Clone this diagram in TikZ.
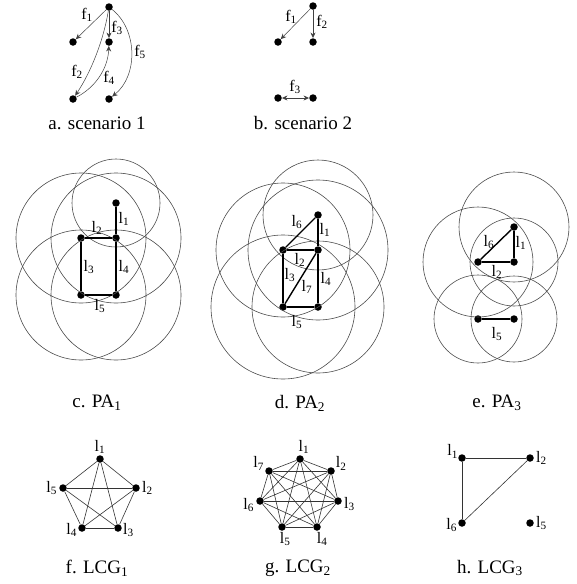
\documentclass[tikz,border=0pt]{standalone}
\usepackage{fontspec}
\setmainfont{Liberation Serif}
\usetikzlibrary{arrows.meta,positioning}

\newcommand{\lnk}[1]{l\textsubscript{#1}}
\newcommand{\flw}[1]{f\textsubscript{#1}}

\begin{document}
\begin{tikzpicture}[
    x=1pt, y=-1pt,
    font=\fontsize{16}{18}\selectfont,
    dot/.style={
        circle,
        fill,
        inner sep=0pt,
        minimum size=7.5pt
    },
    lbl/.style={
        inner sep=1pt
    },
    caption/.style={
        font=\fontsize{19}{22}\selectfont
    },
    flow/.style={
        -{Stealth[length=5.5pt,width=5pt]},
        line width=0.5pt,
        black!75
    },
    txrange/.style={
        draw,
        black!70,
        line width=0.6pt
    },
    link/.style={
        line width=1.4pt
    },
    edge/.style={
        line width=0.6pt,
        black!80
    }
]

\useasboundingbox (0,0) rectangle (576,584);

% scenario 1
\node[dot] (s1t) at (109,7) {};
\node[dot] (s1a) at (73,42) {};
\node[dot] (s1b) at (109,42) {};
\node[dot] (s1c) at (73,99) {};
\node[dot] (s1d) at (109,99) {};

\draw[flow] (s1t) -- (s1a);
\draw[flow] (s1t) -- (s1b);
\draw[flow] (s1t) .. controls (103.5,40) and (91.5,71) .. (s1c);
\draw[flow] (s1c) .. controls (96,87) and (108,68) .. (s1b);
\draw[flow] (s1t) .. controls (138,30) and (138,76) .. (s1d);

\node[lbl] (f1a) at (87,15) {\flw{1}};
\node[lbl] (f3a) at (117,28) {\flw{3}};
\node[lbl] (f5a) at (140,52) {\flw{5}};
\node[lbl] (f2a) at (77,72) {\flw{2}};
\node[lbl] (f4a) at (109,78) {\flw{4}};

\node[caption] (capa) at (97,123) {a. scenario 1};

% scenario 2
\node[dot] (s2t) at (313,6) {};
\node[dot] (s2a) at (278,42) {};
\node[dot] (s2b) at (313,42) {};
\node[dot] (s2c) at (278,98) {};
\node[dot] (s2d) at (313,98) {};

\draw[flow] (s2t) -- (s2a);
\draw[flow] (s2t) -- (s2b);
\draw[flow, {Stealth[length=5.5pt,width=5pt]}-{Stealth[length=5.5pt,width=5pt]}] (s2c) -- (s2d);

\node[lbl] (f1b) at (291,17) {\flw{1}};
\node[lbl] (f2b) at (322,22) {\flw{2}};
\node[lbl] (f3b) at (295,87) {\flw{3}};

\node[caption] (capb) at (303,123) {b. scenario 2};

% PA1
\node[dot] (p1) at (116,203) {};
\node[dot] (p2) at (81,238) {};
\node[dot] (p3) at (116,238) {};
\node[dot] (p4) at (81,295) {};
\node[dot] (p5) at (116,295) {};

\foreach \n/\r in {p1/44, p2/65, p3/65, p4/65, p5/65}
    \draw[txrange] (\n) circle (\r pt);

\draw[link] (p1) -- (p3);
\draw[link] (p2) -- (p3);
\draw[link] (p2) -- (p4);
\draw[link] (p3) -- (p5);
\draw[link] (p4) -- (p5);

\node[lbl] (pl1) at (124,219) {\lnk{1}};
\node[lbl] (pl2) at (97,228) {\lnk{2}};
\node[lbl] (pl3) at (89,267) {\lnk{3}};
\node[lbl] (pl4) at (124,267) {\lnk{4}};
\node[lbl] (pl5) at (100,306) {\lnk{5}};

\node[caption] (capc) at (97,403) {c. PA\textsubscript{1}};

% PA2
\node[dot] (q1) at (318,215) {};
\node[dot] (q2) at (283,250) {};
\node[dot] (q3) at (318,250) {};
\node[dot] (q4) at (283,307) {};
\node[dot] (q5) at (318,307) {};

\foreach \n/\r in {q1/55, q2/67, q3/70, q4/72, q5/66}
    \draw[txrange] (\n) circle (\r pt);

\draw[link] (q1) -- (q3);
\draw[link] (q2) -- (q1);
\draw[link] (q2) -- (q3);
\draw[link] (q2) -- (q4);
\draw[link] (q3) -- (q5);
\draw[link] (q4) -- (q5);
\draw[link] (q4) -- (q3);

\node[lbl] (ql6) at (297,222) {\lnk{6}};
\node[lbl] (ql1) at (325,230) {\lnk{1}};
\node[lbl] (ql2) at (300,260) {\lnk{2}};
\node[lbl] (ql3) at (290,275) {\lnk{3}};
\node[lbl] (ql7) at (307,287) {\lnk{7}};
\node[lbl] (ql4) at (326,279) {\lnk{4}};
\node[lbl] (ql5) at (297,322) {\lnk{5}};

\node[caption] (capd) at (300,403) {d. PA\textsubscript{2}};

% PA3
\node[dot] (r1) at (514,227) {};
\node[dot] (r2) at (478,262) {};
\node[dot] (r3) at (514,262) {};
\node[dot] (r4) at (478,319) {};
\node[dot] (r5) at (514,319) {};

\foreach \n/\r in {r1/55, r2/55, r3/44, r4/44, r5/43}
    \draw[txrange] (\n) circle (\r pt);

\draw[link] (r1) -- (r3);
\draw[link] (r2) -- (r1);
\draw[link] (r2) -- (r3);
\draw[link] (r4) -- (r5);

\node[lbl] (rl6) at (489,242) {\lnk{6}};
\node[lbl] (rl1) at (521,243) {\lnk{1}};
\node[lbl] (rl2) at (497,272) {\lnk{2}};
\node[lbl] (rl5) at (497,334) {\lnk{5}};

\node[caption] (cape) at (497,403) {e. PA\textsubscript{3}};

% LCG1
\node[dot] (u1) at (100,459) {};
\node[dot] (u2) at (136,488) {};
\node[dot] (u3) at (118,528) {};
\node[dot] (u4) at (82,528) {};
\node[dot] (u5) at (63,488) {};

\foreach \i [evaluate=\i as \k using int(\i+1)] in {1,...,4}
    \foreach \j in {\k,...,5}
        \draw[edge] (u\i) -- (u\j);

\node[lbl, above=0pt of u1] (ul1) {\lnk{1}};
\node[lbl, right=1pt of u2] (ul2) {\lnk{2}};
\node[lbl, right=0pt of u3, yshift=-2pt] (ul3) {\lnk{3}};
\node[lbl, left=0pt of u4, yshift=-2pt] (ul4) {\lnk{4}};
\node[lbl, left=1pt of u5] (ul5) {\lnk{5}};

\node[caption] (capf) at (97,568) {f. LCG\textsubscript{1}};

% LCG2
\node[dot] (v1) at (300,459) {};
\node[dot] (v2) at (331,471) {};
\node[dot] (v3) at (338,501) {};
\node[dot] (v4) at (317,527) {};
\node[dot] (v5) at (282,527) {};
\node[dot] (v6) at (260,501) {};
\node[dot] (v7) at (269,471) {};

\foreach \i [evaluate=\i as \k using int(\i+1)] in {1,...,6}
    \foreach \j in {\k,...,7}
        \draw[edge] (v\i) -- (v\j);

\node[lbl, above=0pt of v1, xshift=4pt] (vl1) {\lnk{1}};
\node[lbl, above right=-3pt and 1pt of v2] (vl2) {\lnk{2}};
\node[lbl, right=1pt of v3, yshift=-3pt] (vl3) {\lnk{3}};
\node[lbl, below right=1pt and -4pt of v4] (vl4) {\lnk{4}};
\node[lbl, below right=1pt and -6pt of v5] (vl5) {\lnk{5}};
\node[lbl, left=1pt of v6, yshift=-4pt] (vl6) {\lnk{6}};
\node[lbl, above left=-3pt and 1pt of v7] (vl7) {\lnk{7}};

\node[caption] (capg) at (298,568) {g. LCG\textsubscript{2}};

% LCG3
\node[dot] (w1) at (462,458) {};
\node[dot] (w2) at (530,458) {};
\node[dot] (w6) at (462,523) {};
\node[dot] (w5) at (530,523) {};

\draw[edge] (w1) -- (w2);
\draw[edge] (w1) -- (w6);
\draw[edge] (w6) -- (w2);

\node[lbl, above left=-4pt and 0pt of w1] (wl1) {\lnk{1}};
\node[lbl, right=1pt of w2] (wl2) {\lnk{2}};
\node[lbl, left=0pt of w6, yshift=-2pt] (wl6) {\lnk{6}};
\node[lbl, right=1pt of w5] (wl5) {\lnk{5}};

\node[caption] (caph) at (490,568) {h. LCG\textsubscript{3}};

\end{tikzpicture}
\end{document}
